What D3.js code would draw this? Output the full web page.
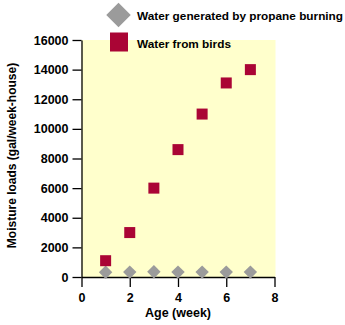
<!DOCTYPE html>
<html>
<head>
<meta charset="utf-8">
<script src="https://cdn.jsdelivr.net/npm/d3@7"></script>
<style>
  html, body { margin: 0; padding: 0; background: #fff; }
  svg { display: block; font-family: "Liberation Sans", Arial, Helvetica, sans-serif; }
</style>
</head>
<body>
<svg id="chart" width="345" height="325"></svg>
<script>
// Weekly moisture loads per house by flock age
const weeks = [1, 2, 3, 4, 5, 6, 7];
const propaneWater = [320, 330, 350, 330, 330, 330, 330];
const birdWater = [1100, 3000, 6000, 8600, 11000, 13100, 14000];
const xTicks = [0, 2, 4, 6, 8];
const yTicks = [0, 2000, 4000, 6000, 8000, 10000, 12000, 14000, 16000];
const seriesNames = ["Water generated by propane burning", "Water from birds"];

const svg = d3.select("#chart");
const margin = { left: 81.5, right: 70.5, top: 40, bottom: 48 };
const W = 345, H = 325;

const x = d3.scaleLinear().domain([0, 8]).range([margin.left, W - margin.right]);
const y = d3.scaleLinear().domain([0, 16000]).range([H - margin.bottom, margin.top]);

// plot background
svg.append("rect")
  .attr("x", x(0)).attr("y", y(16000))
  .attr("width", x(8) - x(0) + 1).attr("height", y(0) - y(16000))
  .attr("fill", "#ffffcc");

const tickFont = g => g.selectAll("text")
  .attr("font-size", "12.5px").attr("font-weight", "bold").attr("fill", "#000");

// x axis
svg.append("g")
  .attr("transform", `translate(0,${y(0)})`)
  .call(d3.axisBottom(x).tickValues(xTicks).tickFormat(d3.format("d"))
    .tickSize(10).tickSizeOuter(0).tickPadding(6))
  .call(tickFont)
  .call(g => g.selectAll("line,path").attr("stroke", "#000").attr("stroke-width", 1.3));

// y axis
svg.append("g")
  .attr("transform", `translate(${x(0)},0)`)
  .call(d3.axisLeft(y).tickValues(yTicks).tickFormat(d3.format("d"))
    .tickSize(9).tickSizeOuter(0).tickPadding(4))
  .call(tickFont)
  .call(g => g.selectAll("line,path").attr("stroke", "#000").attr("stroke-width", 1.3));

const red = "#aa0535", gray = "#9b9b9b";
const diamond = d3.symbol().type(d3.symbolSquare);

// propane diamonds
svg.append("g").selectAll("path")
  .data(weeks.map((w, i) => [w, propaneWater[i]]))
  .join("path")
  .attr("transform", d => `translate(${x(d[0])},${y(d[1])}) rotate(45)`)
  .attr("d", diamond.size(90)())
  .attr("fill", gray);

// bird squares
const sq = 11;
svg.append("g").selectAll("rect")
  .data(weeks.map((w, i) => [w, birdWater[i]]))
  .join("rect")
  .attr("x", d => x(d[0]) - sq / 2)
  .attr("y", d => y(d[1]) - sq / 2)
  .attr("width", sq).attr("height", sq)
  .attr("fill", red);

// legend
const leg = svg.append("g");
leg.append("path")
  .attr("transform", "translate(118.5,15) rotate(45)")
  .attr("d", d3.symbol().type(d3.symbolSquare).size(300)())
  .attr("fill", gray);
leg.append("rect")
  .attr("x", 110).attr("y", 32.5).attr("width", 18).attr("height", 19)
  .attr("fill", red);
leg.selectAll("text")
  .data(seriesNames)
  .join("text")
  .attr("x", 137)
  .attr("y", (d, i) => [20, 47.5][i])
  .attr("font-size", "11.8px")
  .attr("font-weight", "bold")
  .text(d => d);

// axis titles
svg.append("text")
  .attr("x", x(4)).attr("y", 317)
  .attr("text-anchor", "middle")
  .attr("font-size", "12.5px").attr("font-weight", "bold")
  .text("Age (week)");

svg.append("text")
  .attr("transform", `translate(16,${(y(0) + y(16000)) / 2 - 3}) rotate(-90)`)
  .attr("text-anchor", "middle")
  .attr("font-size", "12px").attr("font-weight", "bold")
  .text("Moisture loads (gal/week-house)");
</script>
</body>
</html>
